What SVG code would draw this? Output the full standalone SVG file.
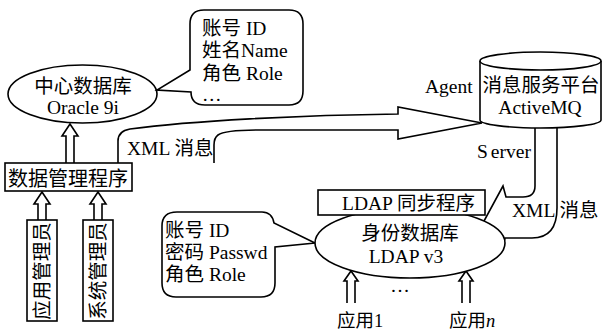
<svg xmlns="http://www.w3.org/2000/svg" width="602" height="331" viewBox="0 0 602 331">
<style>
.s{fill:none;stroke:#000;stroke-width:1.6;stroke-linejoin:miter}
.w{fill:#fff;stroke:#000;stroke-width:1.6}
text{font-family:"Liberation Serif","Noto Sans CJK SC",serif;font-size:19.5px;fill:#000}
</style>
<rect width="602" height="331" fill="#fff"/>
<g id="connectors">
  <path class="s" d="M66,163 L66,136 L62,136 L70,124 L78,136 L74,136 L74,163"/>
  <path class="s" d="M38,220 L38,204 L34,204 L42,192 L50,204 L46,204 L46,220"/>
  <path class="s" d="M94,220 L94,204 L90,204 L98,192 L106,204 L102,204 L102,220"/>
  <path class="s" d="M118,163 L118,141 Q118,131 130,129 C190,121 300,115 398,114 L398,107 L482,123 L398,139 L398,130 L260,130 C235,130 222,132 218,135 Q214,138 214,145 L214,163"/>
  <path class="s" d="M535,127 L535,186 Q535,197 523,197 L506,197 L503,186 L484,221 L502,250 L505,238 L532,238 Q557,238 557,208 L557,126"/>
  <path class="s" d="M347,303 L347,281 L344,281 L351,271 L358,281 L355,281 L355,303"/>
  <path class="s" d="M462,303 L462,281 L459,281 L466,271 L473,281 L470,281 L470,303"/>
  <text x="127" y="155">XML 消息</text>
  <text x="425" y="93">Agent</text>
  <text x="477" y="158">S<tspan dx="3">erver</tspan></text>
  <text x="512" y="217">XML 消息</text>
  <text x="400" y="292" text-anchor="middle">…</text>
</g>
<g id="central-db">
  <ellipse class="w" cx="82.5" cy="94" rx="74.5" ry="29"/>
  <text x="83" y="93" text-anchor="middle">中心数据库</text>
  <text x="83" y="114" text-anchor="middle">Oracle 9i</text>
</g>
<g id="callout-top">
  <path class="w" d="M204,10 L289,10 Q303,10 303,24 L303,91 Q303,105 289,105 L205,105 Q191,105 191,92 L157,90 L190,70 L190,24 Q190,10 204,10 Z"/>
  <text x="202" y="35">账号 ID</text>
  <text x="202" y="57">姓名Name</text>
  <text x="202" y="80">角色 Role</text>
  <text x="202" y="101">…</text>
</g>
<g id="mq">
  <path class="w" d="M480,61 L480,120 A60.5,8 0 0 0 601,120 L601,61"/>
  <ellipse class="w" cx="540.5" cy="61" rx="60.5" ry="9"/>
  <text x="541" y="92" text-anchor="middle">消息服务平台</text>
  <text x="540" y="114" text-anchor="middle">ActiveMQ</text>
</g>
<g id="data-mgmt">
  <rect class="w" x="5" y="163" width="127" height="28"/>
  <text x="68" y="186" text-anchor="middle" style="font-size:20px">数据管理程序</text>
</g>
<g id="app-admin">
  <rect class="w" x="27" y="220" width="30" height="101"/>
  <text transform="translate(42,271) rotate(-90)" y="7" text-anchor="middle">应用管理员</text>
</g>
<g id="sys-admin">
  <rect class="w" x="83" y="220" width="30" height="101"/>
  <text transform="translate(98,271) rotate(-90)" y="7" text-anchor="middle">系统管理员</text>
</g>
<g id="callout-bottom">
  <path class="w" d="M177,212 L262,212 Q272,212 274,223 L315,243 L275,247 L275,283 Q275,297 261,297 L176,297 Q162,297 162,283 L162,226 Q162,212 177,212 Z"/>
  <text x="165" y="237">账号 ID</text>
  <text x="165" y="259">密码 Passwd</text>
  <text x="165" y="281">角色 Role</text>
</g>
<g id="ldap-db">
  <ellipse class="w" cx="410" cy="243" rx="95" ry="35"/>
  <rect class="w" x="318" y="190" width="167" height="25"/>
  <text x="342" y="210">LDAP  同步程序</text>
  <text x="410" y="240" text-anchor="middle">身份数据库</text>
  <text x="406" y="263" text-anchor="middle">LDAP v3</text>
</g>
<g id="app-1">
  <text x="337" y="327" style="font-size:18.5px">应用1</text>
</g>
<g id="app-n">
  <text x="449" y="327" style="font-size:18.5px">应用<tspan font-style="italic">n</tspan></text>
</g>
</svg>
